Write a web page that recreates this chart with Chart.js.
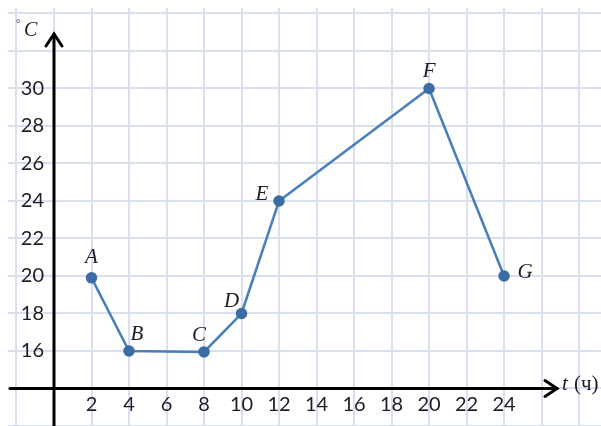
<!DOCTYPE html>
<html>
<head>
<meta charset="utf-8">
<script src="https://cdn.jsdelivr.net/npm/chart.js@4/dist/chart.umd.min.js"></script>
<style>
    body { margin: 0; background: #fff; }
    #wrap { width: 601px; height: 426px; }
</style>
</head>
<body>
<div id="wrap"><canvas id="myChart" width="601" height="426"></canvas></div>
<script>
// Data
const hours = [2, 4, 8, 10, 12, 20, 24];
const temps = [19.9, 16, 15.95, 18, 24, 30, 20];
const pointNames = ['A', 'B', 'C', 'D', 'E', 'F', 'G'];
const xTickLabels = [2, 4, 6, 8, 10, 12, 14, 16, 18, 20, 22, 24];
const yTickLabels = [16, 18, 20, 22, 24, 26, 28, 30];

document.addEventListener('DOMContentLoaded', function() {
    const ctx = document.getElementById('myChart').getContext('2d');

    // offsets of letter labels from their points (px)
    const nameOffsets = [[0, -20], [8, -17], [-5, -16], [-10, -12], [-17, -7], [0, -17], [21, -4]];

    function evenTicks(from, to) {
        const t = [];
        for (let v = from; v <= to; v += 2) t.push({ value: v });
        return t;
    }

    const axesPlugin = {
        id: 'axesPlugin',
        beforeDatasetsDraw(chart) {
            const c = chart.ctx;
            const xs = chart.scales.x, ys = chart.scales.y;
            const x0 = xs.getPixelForValue(0);
            const y0 = ys.getPixelForValue(14);
            c.save();
            c.strokeStyle = '#000';
            c.lineWidth = 3;
            c.lineCap = 'round';
            c.lineJoin = 'miter';
            // x axis
            const xEnd = 557;
            c.beginPath();
            c.moveTo(10, y0);
            c.lineTo(xEnd, y0);
            c.stroke();
            c.beginPath();
            c.moveTo(xEnd - 12, y0 - 8);
            c.lineTo(xEnd, y0);
            c.lineTo(xEnd - 12, y0 + 8);
            c.stroke();
            // y axis
            const yEnd = 34;
            c.beginPath();
            c.moveTo(x0, 426);
            c.lineTo(x0, yEnd);
            c.stroke();
            c.beginPath();
            c.moveTo(x0 - 8, yEnd + 12);
            c.lineTo(x0, yEnd);
            c.lineTo(x0 + 8, yEnd + 12);
            c.stroke();
            c.restore();
        },
        afterDatasetsDraw(chart) {
            const c = chart.ctx;
            const xs = chart.scales.x, ys = chart.scales.y;
            const x0 = xs.getPixelForValue(0);
            const y0 = ys.getPixelForValue(14);
            c.save();
            c.fillStyle = '#1c1c24';
            c.font = '20px Lato';
            c.textBaseline = 'middle';
            c.textAlign = 'center';
            xTickLabels.forEach(v => c.fillText(String(v), xs.getPixelForValue(v), y0 + 16));
            c.textAlign = 'right';
            yTickLabels.forEach(v => c.fillText(String(v), x0 - 10, ys.getPixelForValue(v)));

            // letters at points
            c.font = 'italic 21px "Liberation Serif"';
            c.textAlign = 'center';
            pointNames.forEach((n, i) => {
                const px = xs.getPixelForValue(hours[i]) + nameOffsets[i][0];
                const py = ys.getPixelForValue(temps[i]) + nameOffsets[i][1];
                c.fillText(n, px, py);
            });

            // unit labels
            c.textAlign = 'left';
            c.font = 'italic 20px "Liberation Serif"';
            c.fillText('C', 24, 31);
            c.font = '11px "Liberation Serif"';
            c.fillText('°', 16, 24);
            c.font = 'italic 21px "Liberation Serif"';
            c.fillText('t', 562, y0 - 4);
            c.font = '21px "Liberation Serif"';
            c.fillText('(ч)', 574, y0 - 4);
            c.restore();
        }
    };

    const myChart = new Chart(ctx, {
        type: 'line',
        data: {
            datasets: [
                {
                    data: hours.map((h, i) => ({ x: h, y: temps[i] })),
                    borderColor: '#4a7ebb',
                    backgroundColor: '#3c6ca6',
                    pointBackgroundColor: '#3c6ca6',
                    pointBorderColor: '#3c6ca6',
                    borderWidth: 2.5,
                    pointRadius: 4.5,
                    tension: 0,
                    fill: false
                }
            ]
        },
        options: {
            responsive: false,
            animation: false,
            layout: { autoPadding: false, padding: { left: 8, top: 8, right: 0, bottom: 0 } },
            scales: {
                x: {
                    type: 'linear',
                    min: -2.453,
                    max: 29.17,
                    afterBuildTicks: scale => { scale.ticks = evenTicks(-2, 28); },
                    ticks: { display: false },
                    border: { display: false },
                    grid: { color: '#d9dfee', lineWidth: 2, drawTicks: false }
                },
                y: {
                    type: 'linear',
                    min: 12,
                    max: 34.293,
                    afterBuildTicks: scale => { scale.ticks = evenTicks(12, 34); },
                    ticks: { display: false },
                    border: { display: false },
                    grid: { color: '#d9dfee', lineWidth: 2, drawTicks: false }
                }
            },
            plugins: {
                legend: { display: false },
                tooltip: { enabled: false }
            }
        },
        plugins: [axesPlugin]
    });
});
</script>
</body>
</html>
